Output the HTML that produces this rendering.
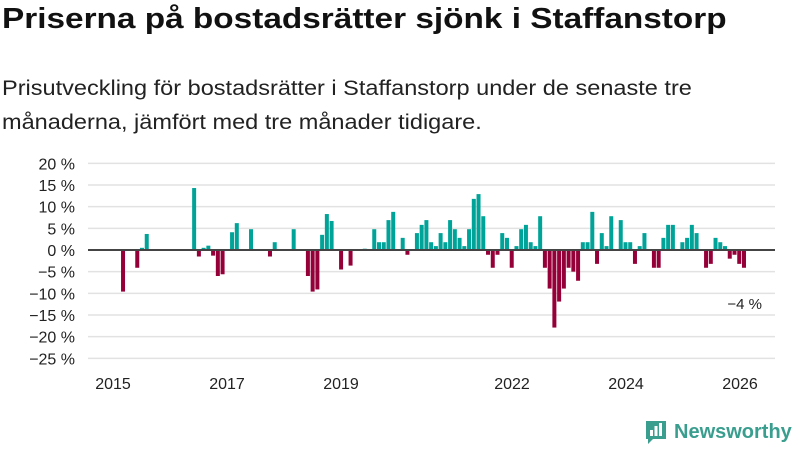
<!DOCTYPE html>
<html><head><meta charset="utf-8">
<style>
body{margin:0;background:#fff;width:800px;height:450px;overflow:hidden;font-family:"Liberation Sans",sans-serif;}
#title{position:absolute;left:2px;top:3px;font-size:29px;font-weight:bold;color:#111;margin:0;transform:scaleX(1.15);transform-origin:left top;white-space:nowrap}
#sub{position:absolute;left:2px;top:72px;font-size:21px;line-height:34px;color:#222;width:660px;transform:scaleX(1.12);transform-origin:left top}
svg{position:absolute;left:0;top:0}
</style></head><body>
<h1 id="title">Priserna på bostadsrätter sjönk i Staffanstorp</h1>
<div id="sub">Prisutveckling för bostadsrätter i Staffanstorp under de senaste tre månaderna, jämfört med tre månader tidigare.</div>
<svg id="chart" width="800" height="450"></svg>
<div style="position:absolute;left:644px;top:419px;display:flex;align-items:center;">
<svg width="24" height="26" style="position:static"><path d="M2 2h20v18H9l-5 5v-5H2z" fill="#3a9e8f"/><rect x="6" y="11" width="3" height="6" fill="#fff"/><rect x="10.5" y="7" width="3" height="10" fill="#fff"/><rect x="15" y="4" width="3" height="13" fill="#fff"/></svg>
<span style="font-size:20px;font-weight:bold;color:#3a9e8f;margin-left:6px">Newsworthy</span></div>
<script>
const months=[1,4,5,6,16,17,18,19,20,21,22,24,25,28,32,33,37,40,41,42,43,44,45,47,49,52,54,55,56,57,58,60,61,63,64,65,66,67,68,69,70,71,72,73,74,75,76,77,78,79,80,81,82,83,84,85,86,87,88,89,90,91,92,93,94,95,96,97,98,99,100,101,102,103,104,106,107,108,109,110,111,113,114,115,116,117,119,120,121,122,124,125,126,127,128,129,130,131,132];
const values=[-9.6,-4.1,0.5,3.7,14.3,-1.5,0.5,1,-1.3,-6,-5.6,4.1,6.2,4.8,-1.5,1.8,4.8,-6,-9.6,-9.1,3.5,8.3,6.7,-4.5,-3.6,0.3,4.8,1.8,1.8,6.9,8.8,2.8,-1.1,3.9,5.8,6.9,1.8,0.9,3.9,1.8,6.9,4.8,2.8,0.9,4.8,11.8,12.9,7.8,-1.1,-4.1,-1.1,3.9,2.8,-4.1,0.9,4.8,5.8,1.8,0.9,7.8,-4.1,-8.9,-17.9,-11.9,-8.9,-4.1,-5,-7.1,1.8,1.8,8.8,-3.2,3.9,0.9,7.8,6.9,1.8,1.8,-3.2,0.9,3.9,-4.1,-4.1,2.8,5.8,5.8,1.8,2.8,5.8,3.9,-4.1,-3.2,2.8,1.8,0.9,-2,-1.1,-3.2,-4.1];
const yTicks=[20,15,10,5,0,-5,-10,-15,-20,-25];
const yearTicks=[2015,2017,2019,2022,2024,2026];
const svg=document.getElementById('chart');const NS='http://www.w3.org/2000/svg';
const y=v=>250-v*4.333;
const xm=m=>116.3+4.74*m;
const xyear=yr=>113+(yr-2015)*57;
function mk(t,a){const e=document.createElementNS(NS,t);for(const k in a)e.setAttribute(k,a[k]);svg.appendChild(e);return e;}
yTicks.forEach(v=>{
 if(v!==0){const g=mk('line',{x1:88,x2:775,y1:y(v),y2:y(v),stroke:'#e2e2e2','stroke-width':1.5});
 
 }
 const t=mk('text',{x:75,y:y(v)+6,'text-anchor':'end','font-size':16,fill:'#222'});
 t.textContent=(v<0?'\u2212'+(-v):v)+' %';
 
 
});
months.forEach((m,i)=>{const v=values[i];
 const r=mk('rect',{x:xm(m),y:Math.min(y(v),y(0)),width:4,height:Math.abs(y(v)-y(0)),fill:v>=0?'#00a398':'#950038'});
 
 
});
const z=mk('line',{x1:88,x2:775,y1:y(0),y2:y(0),stroke:'#444','stroke-width':2});


yearTicks.forEach(yr=>{
 const t=mk('text',{x:xyear(yr),y:389,'text-anchor':'middle','font-size':16,fill:'#222'});
 t.textContent=yr;
 
 
});
const lv=values[values.length-1];
const l=mk('text',{x:762,y:y(lv)+41,'text-anchor':'end','font-size':15,fill:'#222'});
l.textContent='\u2212'+Math.round(-lv)+' %';


</script>
</body></html>
